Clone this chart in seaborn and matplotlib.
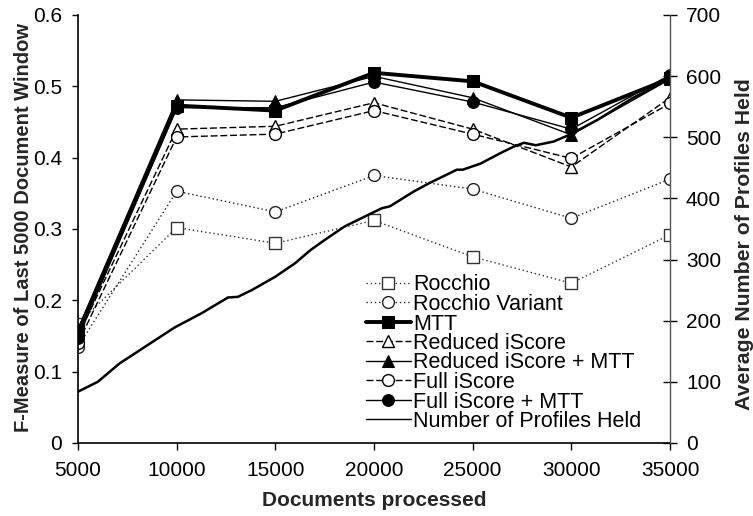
import matplotlib
matplotlib.use("Agg")
import matplotlib.pyplot as plt
import seaborn as sns
import numpy as np

# ---- data ----
docs = [5000, 10000, 15000, 20000, 25000, 30000, 35000]
rocchio = [0.167, 0.302, 0.280, 0.312, 0.261, 0.224, 0.292]
rocchio_variant = [0.135, 0.353, 0.324, 0.375, 0.356, 0.315, 0.370]
mtt = [0.155, 0.473, 0.466, 0.519, 0.507, 0.456, 0.511]
reduced_iscore = [0.150, 0.440, 0.444, 0.477, 0.440, 0.387, 0.484]
reduced_iscore_mtt = [0.160, 0.481, 0.479, 0.514, 0.484, 0.432, 0.510]
full_iscore = [0.140, 0.429, 0.433, 0.466, 0.433, 0.399, 0.476]
full_iscore_mtt = [0.147, 0.470, 0.470, 0.506, 0.478, 0.440, 0.516]

profiles_docs = [5000, 6000, 7100, 8900, 9900, 11250, 12600, 13100, 13800, 15000,
                 16000, 16800, 17500, 18500, 19700, 20400, 20800, 22000, 22800,
                 24200, 24500, 25400, 26400, 27100, 27600, 28200, 29100, 29900,
                 31300, 33100, 35000]
profiles_held = [84, 100, 130, 168, 189, 212, 238, 239, 250, 272,
                 294, 316, 332, 354, 373, 384, 387, 411, 425,
                 447, 447, 457, 474, 485, 491, 487, 493, 504,
                 528, 564, 596]

x_ticks = [5000, 10000, 15000, 20000, 25000, 30000, 35000]
y_ticks = [0, 0.1, 0.2, 0.3, 0.4, 0.5, 0.6]
y_tick_labels = ["0", "0.1", "0.2", "0.3", "0.4", "0.5", "0.6"]
y2_ticks = [0, 100, 200, 300, 400, 500, 600, 700]

sns.set_theme(style="white")
plt.rcParams['font.family'] = ['Liberation Sans', 'DejaVu Sans']

W, H = 753, 516
fig = plt.figure(figsize=(W / 100, H / 100), dpi=100)
ax = fig.add_axes([78 / W, 1 - 443 / H, 592 / W, 428 / H])
ax2 = ax.twinx()

ms = 8.5
series = [
    (rocchio, "Rocchio", dict(linestyle=(0, (1, 2)), linewidth=1.0, color="#333333",
                              marker="s", markersize=ms, markerfacecolor="white",
                              markeredgecolor="#333333", markeredgewidth=1.0)),
    (rocchio_variant, "Rocchio Variant", dict(linestyle=(0, (1, 2)), linewidth=1.0, color="#222222",
                                              marker="o", markersize=ms, markerfacecolor="white",
                                              markeredgecolor="#222222", markeredgewidth=1.0)),
    (mtt, "MTT", dict(linestyle="-", linewidth=2.8, color="black",
                      marker="s", markersize=ms, markerfacecolor="black",
                      markeredgecolor="black")),
    (reduced_iscore, "Reduced iScore", dict(linestyle=(0, (5, 2)), linewidth=1.0, color="black",
                                            marker="^", markersize=ms, markerfacecolor="white",
                                            markeredgecolor="black", markeredgewidth=1.0)),
    (reduced_iscore_mtt, "Reduced iScore + MTT", dict(linestyle="-", linewidth=1.0, color="black",
                                                      marker="^", markersize=ms, markerfacecolor="black",
                                                      markeredgecolor="black")),
    (full_iscore, "Full iScore", dict(linestyle=(0, (5, 2)), linewidth=1.0, color="black",
                                      marker="o", markersize=ms, markerfacecolor="white",
                                      markeredgecolor="black", markeredgewidth=1.0)),
    (full_iscore_mtt, "Full iScore + MTT", dict(linestyle="-", linewidth=1.0, color="black",
                                                marker="o", markersize=ms, markerfacecolor="black",
                                                markeredgecolor="black")),
]

for vals, lab, kw in series:
    sns.lineplot(x=docs, y=vals, ax=ax, label=lab, sort=False, estimator=None, **kw)

sns.lineplot(x=profiles_docs, y=profiles_held, ax=ax2, label="Number of Profiles Held",
             sort=False, estimator=None, color="black", linewidth=1.8)

for a in (ax, ax2):
    lg = a.get_legend()
    if lg is not None:
        lg.remove()

ax.set_xlim(5000, 35000)
ax.set_ylim(0, 0.6)
ax2.set_ylim(0, 700)
ax.set_xticks(x_ticks)
ax.set_xticklabels([str(v) for v in x_ticks])
ax.set_yticks(y_ticks)
ax.set_yticklabels(y_tick_labels)
ax2.set_yticks(y2_ticks)
ax2.set_yticklabels([str(v) for v in y2_ticks])

for a in (ax, ax2):
    a.spines['top'].set_visible(False)
    a.grid(False)
ax.spines['right'].set_visible(False)
ax.spines['left'].set_color('black')
ax.spines['bottom'].set_color('black')
ax.spines['left'].set_linewidth(1.2)
ax.spines['bottom'].set_linewidth(1.2)
ax2.spines['left'].set_visible(False)
ax2.spines['bottom'].set_visible(False)
ax2.spines['right'].set_color('#555555')
ax2.spines['right'].set_linewidth(1.0)

ax.tick_params(axis='x', direction='out', length=5, width=1.0, color='black',
               labelsize=15, pad=8, bottom=True, labelcolor='black')
ax.tick_params(axis='y', direction='out', length=4.5, width=1.0, color='black',
               labelsize=15, pad=7, left=True, labelcolor='black')
ax2.tick_params(axis='y', direction='inout', length=10, width=1.0, color='black',
                labelsize=15, pad=6.5, right=True, labelcolor='black')

ax.set_xlabel("Documents processed", fontsize=15, fontweight='bold', labelpad=8)
ax.set_ylabel("F-Measure of Last 5000 Document Window", fontsize=14.5, fontweight='bold')
ax2.set_ylabel("Average Number of Profiles Held", fontsize=15.3, fontweight='bold')
ax.yaxis.set_label_coords((33 - 78) / 592, (443 - 227) / 428)
ax2.yaxis.set_label_coords((735 - 78) / 592, (443 - 244) / 428)

h1, l1 = ax.get_legend_handles_labels()
h2, l2 = ax2.get_legend_handles_labels()
handles, labels = h1 + h2, l1 + l2

leg_fs = 15.5
fs_px = leg_fs * 100 / 72.0


def make_legend(ls, anchor_y):
    lg = ax2.legend(handles, labels, loc='upper left', bbox_to_anchor=(0.486, anchor_y),
                    frameon=False, fontsize=leg_fs, handlelength=2.1, handletextpad=0.1,
                    labelspacing=ls, borderpad=0, borderaxespad=0)
    for t in lg.get_texts():
        t.set_color('black')
    lg.legend_handles[-1].set_linewidth(1.0)
    return lg


# layout tuning: target row pitch 19.5 px, first row centred at 285 px from top
ls, anchor_y = 0.0, 0.3925
for _ in range(3):
    leg = make_legend(ls, anchor_y)
    fig.canvas.draw()
    r = fig.canvas.get_renderer()
    cys = []
    for t in leg.get_texts():
        bb = t.get_window_extent(r)
        cys.append((bb.y0 + bb.y1) / 2)
    pitch = (cys[0] - cys[-1]) / (len(cys) - 1)
    ls = ls + (19.5 - pitch) / fs_px
    first_from_top = H - cys[0]
    anchor_y = anchor_y + (first_from_top - 285) / 428
    leg.remove()
leg = make_legend(ls, anchor_y)

fig.savefig("out.png", dpi=100)
